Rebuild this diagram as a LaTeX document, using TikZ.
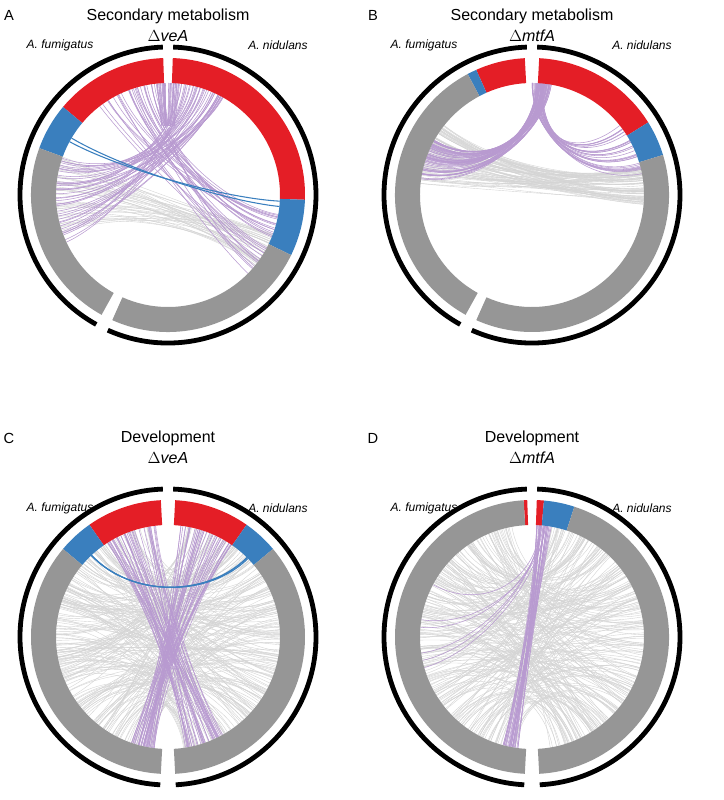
\documentclass[tikz,border=0pt]{standalone}
\usepackage{fontspec}
\setmainfont{Liberation Sans}
\usepackage{tikz}
\definecolor{segred}{HTML}{E41E26}
\definecolor{segblue}{HTML}{3A7FBE}
\definecolor{seggray}{HTML}{969696}
\definecolor{chpurple}{HTML}{B89AD0}
\definecolor{chgray}{HTML}{D4D4D4}
\newcommand{\ringseg}[3]{\fill[#3] (#1:137) arc[start angle=#1,end angle=#2,radius=137] -- (#2:112) arc[start angle=#2,end angle=#1,radius=112] -- cycle;}
\newcommand{\blackarc}[2]{\draw[line width=3.6pt] (#1:148) arc[start angle=#1,end angle=#2,radius=148];}
% n chords between two angle ranges
\newcommand{\chordset}[6]{\foreach \k in {1,...,#1}{%
  \pgfmathsetmacro\ca{#2+(#3-#2)*rnd}\pgfmathsetmacro\cb{#4+(#5-#4)*rnd}%
  \draw[#6] (\ca:112) .. controls (\ca:55) and (\cb:55) .. (\cb:112);}}
\begin{document}
\begin{tikzpicture}[x=0.75pt,y=0.75pt,
    title/.style={font=\fontsize{12}{14}\selectfont},
    species/.style={font=\itshape\fontsize{9}{11}\selectfont},
    panel/.style={font=\fontsize{11}{13}\selectfont},
    pch/.style={chpurple,line width=0.4pt},
    gch/.style={chgray,line width=0.3pt}]
    \useasboundingbox (0,0) rectangle (724,800);
    \pgfmathsetseed{7}

    % Panel A
    \begin{scope}[shift={(168,605)}]
        \chordset{40}{160}{200}{-40}{-20}{gch}
        \chordset{40}{60}{86}{160}{205}{pch}
        \chordset{30}{96}{128}{-45}{-10}{pch}
        \chordset{20}{84}{96}{84}{96}{pch}
        \chordset{2}{145}{152}{-8}{-2}{segblue,line width=0.8pt}
        \ringseg{92}{140}{segred}
        \ringseg{140}{160}{segblue}
        \ringseg{160}{241}{seggray}
        \ringseg{88}{-2}{segred}
        \ringseg{-2}{-26}{segblue}
        \ringseg{-26}{-114}{seggray}
        \blackarc{92}{241}
        \blackarc{-114}{88}
    \end{scope}
    % Panel B
    \begin{scope}[shift={(532,605)}]
        \chordset{80}{140}{175}{-5}{15}{gch}
        \chordset{60}{80}{88}{150}{172}{pch}
        \chordset{30}{84}{90}{10}{40}{pch}
        \ringseg{93}{114}{segred}
        \ringseg{114}{118}{segblue}
        \ringseg{118}{241}{seggray}
        \ringseg{87}{32}{segred}
        \ringseg{32}{17}{segblue}
        \ringseg{17}{-114}{seggray}
        \blackarc{92}{241}
        \blackarc{-114}{88}
    \end{scope}
    % Panel C
    \begin{scope}[shift={(168,163)}]
        \chordset{250}{100}{262}{-82}{80}{gch}
        \chordset{40}{95}{125}{-82}{-60}{pch}
        \chordset{40}{55}{85}{250}{263}{pch}
        \chordset{3}{128}{135}{42}{48}{segblue,line width=0.8pt}
        \ringseg{93}{125}{segred}
        \ringseg{125}{140}{segblue}
        \ringseg{140}{267}{seggray}
        \ringseg{87}{55}{segred}
        \ringseg{55}{40}{segblue}
        \ringseg{40}{-87}{seggray}
        \blackarc{92}{267}
        \blackarc{-87}{88}
    \end{scope}
    % Panel D
    \begin{scope}[shift={(532,163)}]
        \chordset{250}{100}{262}{-82}{80}{gch}
        \chordset{30}{80}{88}{255}{263}{pch}
        \chordset{6}{83}{88}{150}{200}{pch}
        \ringseg{92}{93.5}{segred}
        \ringseg{93.5}{267}{seggray}
        \ringseg{88}{85}{segred}
        \ringseg{85}{72}{segblue}
        \ringseg{72}{-87}{seggray}
        \blackarc{92}{267}
        \blackarc{-87}{88}
    \end{scope}

    % Text
    \node[panel] (la) at (9,785) {A};
    \node[panel] (lb) at (373,785) {B};
    \node[panel] (lc) at (9,362) {C};
    \node[panel] (ld) at (373,362) {D};
    \node[title] (ta1) at (168,784) {Secondary metabolism};
    \node[title] (ta2) at (168,764) {$\Delta$\textit{veA}};
    \node[title] (tb1) at (532,784) {Secondary metabolism};
    \node[title] (tb2) at (532,764) {$\Delta$\textit{mtfA}};
    \node[title] (tc1) at (168,362) {Development};
    \node[title] (tc2) at (168,342) {$\Delta$\textit{veA}};
    \node[title] (td1) at (532,362) {Development};
    \node[title] (td2) at (532,342) {$\Delta$\textit{mtfA}};
    \node[species] (fa) at (60,755) {A. fumigatus};
    \node[species] (na) at (278,755) {A. nidulans};
    \node[species] (fb) at (424,755) {A. fumigatus};
    \node[species] (nb) at (642,755) {A. nidulans};
    \node[species] (fc) at (60,292) {A. fumigatus};
    \node[species] (nc) at (278,292) {A. nidulans};
    \node[species] (fd) at (424,292) {A. fumigatus};
    \node[species] (nd) at (642,292) {A. nidulans};
\end{tikzpicture}
\end{document}
